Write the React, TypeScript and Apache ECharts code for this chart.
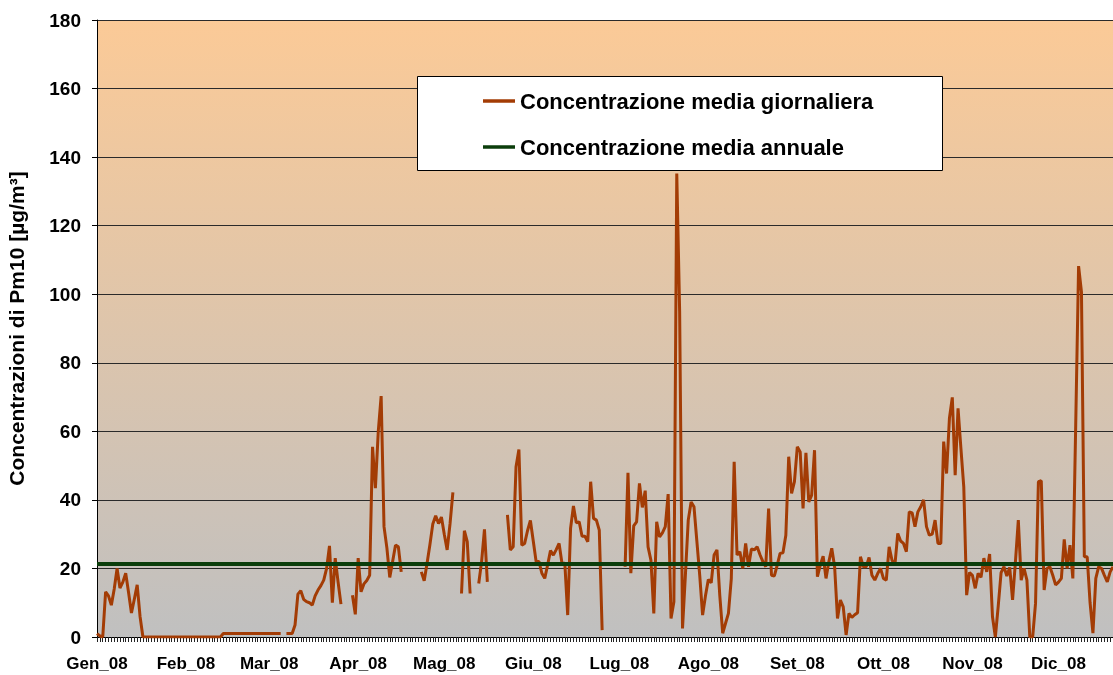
import React, { useEffect, useRef } from "react";
import * as echarts from "echarts";

const months = ["Gen_08", "Feb_08", "Mar_08", "Apr_08", "Mag_08", "Giu_08", "Lug_08", "Ago_08", "Set_08", "Ott_08", "Nov_08", "Dic_08"];
const monthLengths = [31, 29, 31, 30, 31, 30, 31, 31, 30, 31, 30, 31];

const N = null;
const jan = [1, 0.3, 0, 13.2, 12, 9.3, 14, 20, 14.3, 16, 18.6, 13, 7, 11, 15.2, 6, 0, 0, 0, 0, 0, 0, 0, 0, 0, 0, 0, 0, 0, 0, 0];
const feb = [0, 0, 0, 0, 0, 0, 0, 0, 0, 0, 0, 0, 0, 1, 1, 1, 1, 1, 1, 1, 1, 1, 1, 1, 1, 1, 1, 1, 1];
const mar = [1, 1, 1, 1, 1, N, 1, 1, 1, 3.5, 12.5, 13.5, 11, 10.3, 10, 9.3, 12, 13.7, 15, 16.6, 20, 26.6, 10, 23, 16, 9.6, N, N, N, 12.2, 6.6];
const apr = [23, 13.2, 15.5, 16.5, 18, 55.5, 43.4, 60, 70.3, 32.2, 26, 17.4, 22, 26.8, 26.3, 19, N, N, N, N, N, N, 19, 16.4, 21.5, 27, 33, 35.4, 33.1, 35];
const may = [30, 25.4, 33, 42.2, N, N, 12.7, 31, 27.8, 12.7, N, N, 15.6, 22, 31.4, 16.1, N, N, N, N, N, N, 35.6, 25.4, 26.3, 49.7, 54.7, 26.8, 27.3, 31, 34];
const jun = [28, 22, 22, 18.6, 17.1, 21, 25.2, 23.9, 25.5, 27.3, 21.5, 21.5, 6.4, 31.7, 38.2, 33.3, 33.6, 29.4, 29.4, 27.8, 45.3, 34.6, 34.1, 31.2, 2, N, N, N, N, N];
const jul = [N, N, 20.5, 47.9, 18.6, 32.4, 33.6, 44.8, 37.8, 42.7, 26.3, 22.4, 6.9, 33.6, 29.2, 30.4, 32.2, 41.7, 5.4, 10.3, 135.2, 95, 2.5, 18, 34.1, 39.4, 38, 28, 18, 6.4, 12];
const aug = [16.8, 15.8, 23.9, 25.4, 12, 1.1, 4, 6.9, 17, 51.1, 23.9, 24.9, 20, 27.3, 20.5, 25.7, 25.4, 26.3, 24, 22, 20.5, 37.5, 18, 17.8, 21, 24.4, 24.6, 29.7, 52.6, 41.9, 45.3];
const sep = [55.5, 54, 37.5, 53.7, 39.4, 41.4, 54.5, 17.6, 21, 23.6, 17.1, 22, 25.9, 20.5, 5.4, 10.8, 8.8, 0.6, 6.9, 5.7, 6.5, 7.1, 23.4, 20.5, 20.5, 23.2, 18, 16.6, 18.5, 20];
const oct = [17.1, 16.6, 26.3, 22.4, 21, 30.2, 28, 27.3, 24.9, 36.5, 36.2, 32.2, 36.5, 38, 40, 32.2, 29.7, 30, 34.1, 27.3, 27.3, 57, 47.7, 63.8, 69.9, 47.2, 66.7, 55, 43.8, 12.2, 18.8];
const nov = [18, 14.2, 18.6, 17.4, 23, 19, 24.2, 5.9, 0, 9, 18.8, 20.5, 17.8, 20.3, 10.8, 22, 34.1, 16.6, 20, 16.6, 0, 0, 9.8, 45.3, 45.6, 13.7, 20, 20.5, 18, 15.2];
const dec = [16, 17.1, 28.5, 20, 26.8, 17.1, 62, 108.2, 100.7, 23.4, 23.4, 10, 1.1, 17.1, 20.5, 20, 18, 16.1, 19, 20.5];

const dailyValues = [...jan, ...feb, ...mar, ...apr, ...may, ...jun, ...jul, ...aug, ...sep, ...oct, ...nov, ...dec];
const annualMean = 21.3;

const seriesNames = ["Concentrazione media giornaliera", "Concentrazione media annuale"];
const yAxisTitle = "Concentrazioni di Pm10 [µg/m³]";

const FONT = "'Liberation Sans', Arial, sans-serif";
const DAILY_COLOR = "#A33C05";
const ANNUAL_COLOR = "#0B3D0B";

export default function App() {
  const ref = useRef<HTMLDivElement>(null);

  useEffect(() => {
    if (!ref.current) return;
    const chart = echarts.init(ref.current, null, { renderer: "svg" });

    const categories: string[] = [];
    const monthStart = new Map<number, string>();
    months.forEach((m, mi) => {
      monthStart.set(categories.length, m);
      for (let d = 1; d <= monthLengths[mi]; d++) categories.push(`${d}/${mi + 1}/2008`);
    });

    const option: any = {
      animation: false,
      textStyle: { fontFamily: FONT },
      grid: {
        left: 97,
        top: 20,
        width: 1047.6,
        bottom: 38,
        outerBoundsMode: "none",
        containLabel: false,
        show: true,
        borderWidth: 0,
        backgroundColor: new echarts.graphic.LinearGradient(0, 0, 0, 1, [
          { offset: 0, color: "#FBCA97" },
          { offset: 1, color: "#C0C0C0" },
        ]),
      },
      xAxis: {
        type: "category",
        data: categories,
        boundaryGap: false,
        axisLine: { lineStyle: { color: "#000", width: 1 } },
        axisTick: { show: true, interval: 0, length: 5, lineStyle: { color: "#222" } },
        axisLabel: {
          interval: (index: number) => monthStart.has(index),
          formatter: (_v: string, index: number) => monthStart.get(index) ?? "",
          fontFamily: FONT,
          fontWeight: "bold",
          fontSize: 17,
          color: "#000",
          margin: 18,
        },
        splitLine: { show: false },
      },
      yAxis: {
        type: "value",
        min: 0,
        max: 180,
        interval: 20,
        name: yAxisTitle,
        nameLocation: "middle",
        nameRotate: 90,
        nameGap: 70,
        nameTextStyle: { fontFamily: FONT, fontWeight: "bold", fontSize: 21, color: "#000" },
        axisLine: { show: true, lineStyle: { color: "#000", width: 1 } },
        axisTick: { show: true, length: 5, lineStyle: { color: "#000" } },
        axisLabel: { fontFamily: FONT, fontWeight: "bold", fontSize: 19, color: "#000", margin: 16 },
        splitLine: { show: true, lineStyle: { color: "#2a2a2a", width: 1 } },
      },
      legend: {
        orient: "vertical",
        left: 483,
        top: 90,
        icon: "rect",
        itemWidth: 32,
        itemHeight: 3.5,
        itemGap: 24,
        padding: 0,
        z: 20,
        data: seriesNames,
        textStyle: { fontFamily: FONT, fontWeight: "bold", fontSize: 22, color: "#000", lineHeight: 22 },
      },
      graphic: [
        {
          type: "rect",
          z: 15,
          shape: { x: 417.5, y: 76.5, width: 525, height: 94 },
          style: { fill: "#fff", stroke: "#000", lineWidth: 1 },
        },
      ],
      series: [
        {
          name: seriesNames[0],
          type: "line",
          data: dailyValues,
          symbol: "none",
          connectNulls: false,
          lineStyle: { color: DAILY_COLOR, width: 3 },
          itemStyle: { color: DAILY_COLOR },
          z: 3,
        },
        {
          name: seriesNames[1],
          type: "line",
          data: [],
          symbol: "none",
          lineStyle: { color: ANNUAL_COLOR, width: 4 },
          itemStyle: { color: ANNUAL_COLOR },
          z: 4,
          markLine: {
            silent: true,
            symbol: "none",
            label: { show: false },
            lineStyle: { color: ANNUAL_COLOR, width: 4, type: "solid" },
            data: [{ yAxis: annualMean }],
          },
        },
      ],
    };

    chart.setOption(option);
    return () => chart.dispose();
  }, []);

  return (
    <div style={{ position: "fixed", left: 0, top: 0, width: 1113, height: 675, overflow: "hidden" }}>
      <div ref={ref} style={{ width: 1160, height: 675 }} />
    </div>
  );
}
